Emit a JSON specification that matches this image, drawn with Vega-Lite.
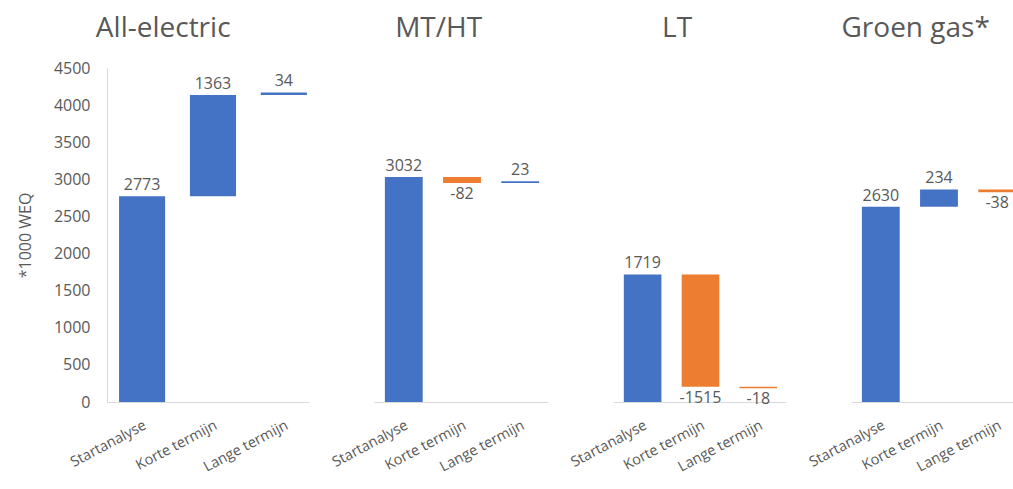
{
  "$schema": "https://vega.github.io/schema/vega-lite/v6.json",
  "background": "white",
  "padding": {"left": 17, "top": 15, "right": 0, "bottom": 0},
  "spacing": 65,
  "bounds": "flush",
  "config": {
    "view": {"stroke": null},
    "font": "Open Sans",
    "title": {"fontSize": 28, "fontWeight": "normal", "color": "#595959", "frame": "bounds", "anchor": "middle", "offset": 25},
    "text": {"fontSize": 16, "color": "#595959"},
    "axisY": {"labelOverlap": false},
    "axisX": {"title": null, "labelAngle": -28, "ticks": false, "domainColor": "#d9d9d9", "labelColor": "#595959", "labelFontSize": 14.5, "labelPadding": 16, "labelOverlap": false, "labelBound": false}
  },
  "datasets": {
    "w": [
      {"panel": "All-electric", "step": "Startanalyse", "order": 1, "delta": 2773},
      {"panel": "All-electric", "step": "Korte termijn", "order": 2, "delta": 1363},
      {"panel": "All-electric", "step": "Lange termijn", "order": 3, "delta": 34},
      {"panel": "MT/HT", "step": "Startanalyse", "order": 1, "delta": 3032},
      {"panel": "MT/HT", "step": "Korte termijn", "order": 2, "delta": -82},
      {"panel": "MT/HT", "step": "Lange termijn", "order": 3, "delta": 23},
      {"panel": "LT", "step": "Startanalyse", "order": 1, "delta": 1719},
      {"panel": "LT", "step": "Korte termijn", "order": 2, "delta": -1515},
      {"panel": "LT", "step": "Lange termijn", "order": 3, "delta": -18},
      {"panel": "Groen gas*", "step": "Startanalyse", "order": 1, "delta": 2630},
      {"panel": "Groen gas*", "step": "Korte termijn", "order": 2, "delta": 234},
      {"panel": "Groen gas*", "step": "Lange termijn", "order": 3, "delta": -38}
    ]
  },
  "hconcat": [
    {
      "width": 202, "height": 334,
      "title": {"text": "All-electric", "offset": 17},
      "data": {"name": "w"},
      "transform": [
        {"filter": "datum.panel === 'All-electric'"},
        {"window": [{"op": "sum", "field": "delta", "as": "end"}], "sort": [{"field": "order"}], "frame": [null, 0]},
        {"calculate": "datum.end - datum.delta", "as": "start"}
      ],
      "encoding": {
        "x": {"field": "step", "type": "nominal", "sort": ["Startanalyse", "Korte termijn", "Lange termijn"], "scale": {"paddingInner": 0.35, "paddingOuter": 0.1, "align": 0.85}}
      },
      "layer": [
        {
          "mark": {"type": "bar"},
          "encoding": {
            "y": {"field": "start", "type": "quantitative", "scale": {"domain": [0, 4500]},
              "axis": {"values": [0, 500, 1000, 1500, 2000, 2500, 3000, 3500, 4000, 4500], "format": "d", "labelOverlap": false, "title": "*1000 WEQ", "grid": false, "ticks": false, "domainColor": "#d9d9d9", "labelFontSize": 16, "labelColor": "#595959", "labelPadding": 17, "titleFontSize": 16, "titleFontWeight": "normal", "titleColor": "#595959", "titlePadding": 20}},
            "y2": {"field": "end"},
            "color": {"condition": {"test": "datum.delta < 0", "value": "#ED7D31"}, "value": "#4472C4"}
          }
        },
        {
          "transform": [{"filter": "datum.delta >= 0"}],
          "mark": {"type": "text", "baseline": "bottom", "dy": -3},
          "encoding": {"y": {"field": "end", "type": "quantitative",
              "axis": {"values": [0, 500, 1000, 1500, 2000, 2500, 3000, 3500, 4000, 4500], "format": "d", "labelOverlap": false, "title": "*1000 WEQ", "grid": false, "ticks": false, "domainColor": "#d9d9d9", "labelFontSize": 16, "labelColor": "#595959", "labelPadding": 17, "titleFontSize": 16, "titleFontWeight": "normal", "titleColor": "#595959", "titlePadding": 20}},
            "text": {"field": "delta", "type": "nominal"}}
        },
        {
          "transform": [{"filter": "datum.delta < 0"}],
          "mark": {"type": "text", "baseline": "top", "dy": 3},
          "encoding": {"y": {"field": "end", "type": "quantitative",
              "axis": {"values": [0, 500, 1000, 1500, 2000, 2500, 3000, 3500, 4000, 4500], "format": "d", "labelOverlap": false, "title": "*1000 WEQ", "grid": false, "ticks": false, "domainColor": "#d9d9d9", "labelFontSize": 16, "labelColor": "#595959", "labelPadding": 17, "titleFontSize": 16, "titleFontWeight": "normal", "titleColor": "#595959", "titlePadding": 20}},
            "text": {"field": "delta", "type": "nominal"}}
        }
      ]
    },
    {
      "width": 174, "height": 334,
      "title": "MT/HT",
      "data": {"name": "w"},
      "transform": [
        {"filter": "datum.panel === 'MT/HT'"},
        {"window": [{"op": "sum", "field": "delta", "as": "end"}], "sort": [{"field": "order"}], "frame": [null, 0]},
        {"calculate": "datum.end - datum.delta", "as": "start"}
      ],
      "encoding": {
        "x": {"field": "step", "type": "nominal", "sort": ["Startanalyse", "Korte termijn", "Lange termijn"], "scale": {"paddingInner": 0.35, "paddingOuter": 0.17, "align": 0.55}}
      },
      "layer": [
        {
          "mark": {"type": "bar"},
          "encoding": {
            "y": {"field": "start", "type": "quantitative", "scale": {"domain": [0, 4500]}, "axis": null},
            "y2": {"field": "end"},
            "color": {"condition": {"test": "datum.delta < 0", "value": "#ED7D31"}, "value": "#4472C4"}
          }
        },
        {
          "transform": [{"filter": "datum.delta >= 0"}],
          "mark": {"type": "text", "baseline": "bottom", "dy": -3},
          "encoding": {"y": {"field": "end", "type": "quantitative", "axis": null}, "text": {"field": "delta", "type": "nominal"}}
        },
        {
          "transform": [{"filter": "datum.delta < 0"}],
          "mark": {"type": "text", "baseline": "top", "dy": 3},
          "encoding": {"y": {"field": "end", "type": "quantitative", "axis": null}, "text": {"field": "delta", "type": "nominal"}}
        }
      ]
    },
    {
      "width": 173, "height": 334,
      "title": "LT",
      "data": {"name": "w"},
      "transform": [
        {"filter": "datum.panel === 'LT'"},
        {"window": [{"op": "sum", "field": "delta", "as": "end"}], "sort": [{"field": "order"}], "frame": [null, 0]},
        {"calculate": "datum.end - datum.delta", "as": "start"}
      ],
      "encoding": {
        "x": {"field": "step", "type": "nominal", "sort": ["Startanalyse", "Korte termijn", "Lange termijn"], "scale": {"paddingInner": 0.35, "paddingOuter": 0.17, "align": 0.55}}
      },
      "layer": [
        {
          "mark": {"type": "bar"},
          "encoding": {
            "y": {"field": "start", "type": "quantitative", "scale": {"domain": [0, 4500]}, "axis": null},
            "y2": {"field": "end"},
            "color": {"condition": {"test": "datum.delta < 0", "value": "#ED7D31"}, "value": "#4472C4"}
          }
        },
        {
          "transform": [{"filter": "datum.delta >= 0"}],
          "mark": {"type": "text", "baseline": "bottom", "dy": -3},
          "encoding": {"y": {"field": "end", "type": "quantitative", "axis": null}, "text": {"field": "delta", "type": "nominal"}}
        },
        {
          "transform": [{"filter": "datum.delta < 0"}],
          "mark": {"type": "text", "baseline": "top", "dy": 3},
          "encoding": {"y": {"field": "end", "type": "quantitative", "axis": null}, "text": {"field": "delta", "type": "nominal"}}
        }
      ]
    },
    {
      "width": 174, "height": 334,
      "title": "Groen gas*",
      "data": {"name": "w"},
      "transform": [
        {"filter": "datum.panel === 'Groen gas*'"},
        {"window": [{"op": "sum", "field": "delta", "as": "end"}], "sort": [{"field": "order"}], "frame": [null, 0]},
        {"calculate": "datum.end - datum.delta", "as": "start"}
      ],
      "encoding": {
        "x": {"field": "step", "type": "nominal", "sort": ["Startanalyse", "Korte termijn", "Lange termijn"], "scale": {"paddingInner": 0.35, "paddingOuter": 0.17, "align": 0.55}}
      },
      "layer": [
        {
          "mark": {"type": "bar"},
          "encoding": {
            "y": {"field": "start", "type": "quantitative", "scale": {"domain": [0, 4500]}, "axis": null},
            "y2": {"field": "end"},
            "color": {"condition": {"test": "datum.delta < 0", "value": "#ED7D31"}, "value": "#4472C4"}
          }
        },
        {
          "transform": [{"filter": "datum.delta >= 0"}],
          "mark": {"type": "text", "baseline": "bottom", "dy": -3},
          "encoding": {"y": {"field": "end", "type": "quantitative", "axis": null}, "text": {"field": "delta", "type": "nominal"}}
        },
        {
          "transform": [{"filter": "datum.delta < 0"}],
          "mark": {"type": "text", "baseline": "top", "dy": 3},
          "encoding": {"y": {"field": "end", "type": "quantitative", "axis": null}, "text": {"field": "delta", "type": "nominal"}}
        }
      ]
    }
  ]
}
